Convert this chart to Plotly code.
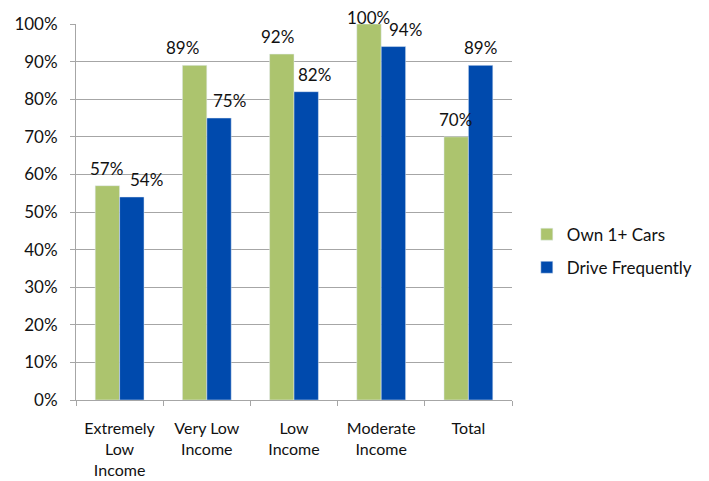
import plotly.graph_objects as go

categories = ["Extremely<br>Low<br>Income", "Very Low<br>Income", "Low<br>Income", "Moderate<br>Income", "Total"]
own_cars = [57, 89, 92, 100, 70]
drive_freq = [54, 75, 82, 94, 89]
y_ticks = list(range(0, 101, 10))
y_tick_labels = [f"{v}%" for v in y_ticks]

# label nudges (px), as placed in the original
own_label_shift = [-1, -12, -4, 0, -1]
drive_label_shift = [15, 10, 8, 12, 0]
own_label_yshift = [5, 5, 5, -6, 5]
drive_label_yshift = [5, 5, 5, 5, 5]

FONT = "Lato"
FS = 17
GREEN = "#ACC46E"
BLUE = "#004AAD"
BARGAP = 0.44

fig = go.Figure()
fig.add_trace(go.Bar(name="Own 1+ Cars", x=categories, y=own_cars,
                     marker_color=GREEN, legendgroup="a"))
fig.add_trace(go.Bar(name="Drive Frequently", x=categories, y=drive_freq,
                     marker_color=BLUE, legendgroup="b"))

half = (1 - BARGAP) / 4
for i, (a, b) in enumerate(zip(own_cars, drive_freq)):
    for xv, yv, sh, ys in ((i - half, a, own_label_shift[i], own_label_yshift[i]),
                           (i + half, b, drive_label_shift[i], drive_label_yshift[i])):
        fig.add_annotation(x=xv, y=yv, text=f"{yv}%", showarrow=False,
                           xref="x", yref="y", yanchor="bottom", yshift=ys, xshift=sh,
                           font=dict(family=FONT, size=FS, color="#111"))

fig.update_layout(
    width=709, height=481,
    margin=dict(l=76, r=197, t=24, b=81, autoexpand=False),
    paper_bgcolor="white", plot_bgcolor="white",
    barmode="group", bargap=BARGAP, bargroupgap=0,
    font=dict(family=FONT, size=FS, color="#111"),
    legend=dict(x=1.034, y=0.396, xanchor="left", yanchor="middle",
                traceorder="grouped", tracegroupgap=8,
                font=dict(family=FONT, size=FS, color="#111")),
)
fig.update_yaxes(
    range=[0, 100], tickvals=y_ticks, ticktext=y_tick_labels,
    showgrid=True, gridcolor="#A6A6A6", gridwidth=1,
    showline=True, linecolor="#A6A6A6", linewidth=1,
    ticks="outside", ticklen=5, tickcolor="#A6A6A6", ticklabelstandoff=9,
    zeroline=False, automargin=False,
    tickfont=dict(family=FONT, size=FS, color="#111"),
)
fig.update_xaxes(
    showline=True, linecolor="#A6A6A6", linewidth=1,
    ticks="outside", ticklen=5, tickcolor="#A6A6A6", tickson="boundaries",
    ticklabelstandoff=14, automargin=False,
    tickfont=dict(family=FONT, size=16, color="#111"),
)

fig.write_html("out.html")
